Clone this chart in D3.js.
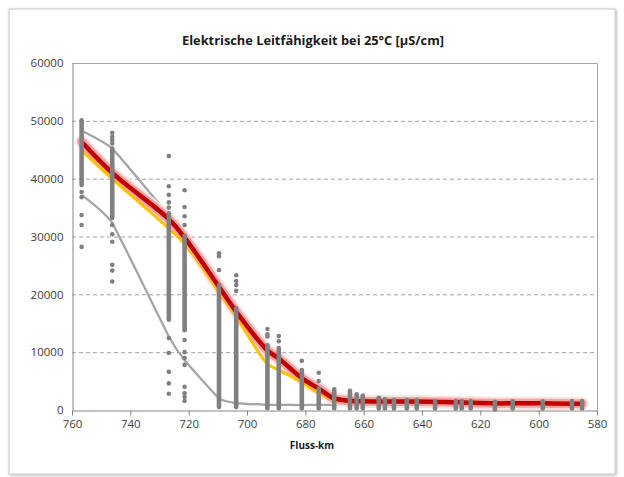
<!DOCTYPE html>
<html><head><meta charset="utf-8">
<script src="https://cdn.jsdelivr.net/npm/d3@7/dist/d3.min.js"></script>
<style>body{margin:0;background:#fff}svg{display:block}</style>
</head><body>
<svg id="c" width="624" height="477"></svg>
<script>
// ---- data ----
const titleText = "Elektrische Leitfähigkeit bei 25°C [µS/cm]";
const xLabel = "Fluss-km";
const xTicks = [760, 740, 720, 700, 680, 660, 640, 620, 600, 580];
const yTicks = [0, 10000, 20000, 30000, 40000, 50000, 60000];

// measuring stations (Fluss-km)
const stations = [756.7, 746.2, 726.8, 721.4, 709.6, 703.7, 693.0, 689.1, 681.2, 675.4, 670.1, 664.7, 662.4, 660.3, 654.8, 652.7, 649.6, 645.2, 641.8, 635.5, 628.4, 626.4, 623.3, 615.0, 608.9, 598.6, 588.6, 585.1];
// dense range of individual samples at each station
const denseHigh = [50100, 45200, 34000, 30100, 21600, 17600, 11200, 10700, 6900, 3750, 3600, 3300, 2700, 2500, 2100, 1850, 1700, 1700, 1700, 1550, 1550, 1550, 1550, 1400, 1500, 1500, 1550, 1550];
const denseLow  = [38900, 33200, 15600, 13800, 500, 500, 300, 300, 300, 300, 300, 300, 300, 300, 250, 250, 250, 250, 250, 250, 250, 250, 250, 100, 250, 250, 250, 250];
// isolated samples
const singles = [
  [37700, 36800, 33700, 32000, 28200],
  [47950, 47250, 46700, 46100, 32000, 30400, 29100, 25100, 24100, 22200],
  [43900, 38700, 37200, 35900, 35000, 12450, 9850, 6600, 4600, 2800],
  [38000, 35100, 33500, 32000, 12100, 10000, 9000, 7800, 4000, 2900, 2250, 1550],
  [27100, 26600, 24200],
  [23300, 22300, 21600, 20600],
  [14000, 13100, 12700],
  [12800, 11900],
  [8500],
  [6450, 5000],
  [],[],[],[],[],[],[],[],[],[],[],[],[],[],[],[],[],[]
];
// line series at stations
const meanLine  = [46400, 41000, 33000, 29800, 21300, 17000, 10300, 8900, 5500, 3700, 2000, 1600, 1500, 1500, 1450, 1450, 1450, 1450, 1450, 1400, 1350, 1300, 1250, 1150, 1150, 1150, 1100, 1100];
const orangeLine= [44900, 40000, 31400, 28800, 20500, 16200, 8000, 6900, 4800, 2900, 1800, 1550, 1500, 1500, 1450, 1450, 1450, 1450, 1450, 1400, 1350, 1300, 1250, 1150, 1150, 1150, 1100, 1100];
const upperLine = [48300, 45200, 33600, 30000, 21500, 17200, 10500, 9000, 5600, 3800, 2100, 1650, 1550, 1500, 1450, 1450, 1450, 1450, 1450, 1400, 1350, 1300, 1250, 1150, 1150, 1150, 1100, 1100];
const lowerLine = [37200, 32300, 12700, 8600, 2000, 1200, 900, 900, 850, 900, 900, 900, 900, 900, 900, 900, 900, 900, 900, 900, 900, 900, 900, 850, 850, 850, 850, 850];

// ---- drawing ----
const svg = d3.select("#c");
const defs = svg.append("defs");
const f = defs.append("filter").attr("id","sh").attr("x","-5%").attr("y","-5%").attr("width","110%").attr("height","110%");
f.append("feDropShadow").attr("dx",1).attr("dy",1).attr("stdDeviation",1.8).attr("flood-color","#000").attr("flood-opacity",0.3);

svg.append("rect").attr("x",9).attr("y",9).attr("width",606).attr("height",465)
  .attr("fill","#fff").attr("stroke","#c9c9c9").attr("stroke-width",1).attr("filter","url(#sh)");

const L = 72, R = 597, T = 63, B = 410;
const x = d3.scaleLinear().domain([760, 580]).range([L, R]);
const y = d3.scaleLinear().domain([0, 60000]).range([B, T]);
const font = "'Open Sans', 'Liberation Sans', sans-serif";

// title
svg.append("text").attr("x", 313).attr("y", 45).attr("text-anchor","middle")
  .attr("font-family", font).attr("font-weight","bold").attr("font-size", 13)
  .attr("fill","#1a1a1a").attr("textLength", 262).attr("lengthAdjust","spacingAndGlyphs")
  .text(titleText);

// gridlines
svg.append("g").selectAll("line").data(yTicks.filter(v => v > 0 && v < 60000)).join("line")
  .attr("x1", L).attr("x2", R).attr("y1", d => y(d)+0.5).attr("y2", d => y(d)+0.5)
  .attr("stroke","#a3a3a3").attr("stroke-width",1).attr("stroke-dasharray","4,3");

// plot border top/right
svg.append("path").attr("d", `M${L},${y(60000)+0.5}H${R+0.5}V${B}`)
  .attr("fill","none").attr("stroke","#a6a6a6").attr("stroke-width",1);

// axes
const yAxis = svg.append("g").attr("transform", `translate(${L+0.5},0)`)
  .call(d3.axisLeft(y).tickValues(yTicks).tickSize(0).tickPadding(9).tickFormat(d3.format("d")));
yAxis.select(".domain").attr("stroke","#868686");
yAxis.selectAll("text").attr("font-family", font).attr("font-size", 11.5).attr("fill","#404040");

const xAxis = svg.append("g").attr("transform", `translate(0,${B+0.5})`)
  .call(d3.axisBottom(x).tickValues(xTicks).tickSize(5).tickSizeOuter(0).tickPadding(4).tickFormat(d3.format("d")));
xAxis.select(".domain").attr("stroke","#868686");
xAxis.selectAll(".tick line").attr("stroke","#868686");
xAxis.selectAll("text").attr("font-family", font).attr("font-size", 11.5).attr("fill","#404040");

svg.append("text").attr("x", 312).attr("y", 449).attr("text-anchor","middle")
  .attr("font-family", font).attr("font-weight","bold").attr("font-size", 10).attr("fill","#1a1a1a")
  .text(xLabel);

// lines
const mkS = vals => d3.line().x((d,i) => x(stations[i])).y(d => y(d)).curve(d3.curveCatmullRom.alpha(0.5))(vals);
const mkG = vals => d3.line().x((d,i) => x(stations[i])).y(d => y(d)).curve(d3.curveCardinal.tension(0.6))(vals);
svg.append("path").attr("d", mkG(lowerLine)).attr("fill","none").attr("stroke","#a5a5a5").attr("stroke-width",2.3).attr("stroke-linejoin","round");
svg.append("path").attr("d", mkG(upperLine)).attr("fill","none").attr("stroke","#a5a5a5").attr("stroke-width",2.3).attr("stroke-linejoin","round");
svg.append("path").attr("d", mkS(meanLine)).attr("fill","none").attr("stroke","#fde0e0").attr("stroke-width",13).attr("stroke-linecap","round");
svg.append("path").attr("d", mkS(meanLine)).attr("fill","none").attr("stroke","#f6a3a3").attr("stroke-width",9).attr("stroke-linecap","round");
svg.append("path").attr("d", mkS(orangeLine)).attr("fill","none").attr("stroke","#ffc000").attr("stroke-width",3);
svg.append("path").attr("d", mkS(meanLine)).attr("fill","none").attr("stroke","#c00000").attr("stroke-width",4.5);

// samples
const gs = svg.append("g");
gs.selectAll("line").data(stations).join("line")
  .attr("x1", d => x(d)).attr("x2", d => x(d))
  .attr("y1", (d,i) => y(denseHigh[i])).attr("y2", (d,i) => y(denseLow[i]))
  .attr("stroke","#808080").attr("stroke-width",4.6).attr("stroke-linecap","round");
const pts = [];
stations.forEach((s,i) => singles[i].forEach(v => pts.push([s,v])));
gs.selectAll("circle").data(pts).join("circle")
  .attr("cx", d => x(d[0])).attr("cy", d => y(d[1])).attr("r", 2.3).attr("fill","#808080");
</script>
</body></html>
